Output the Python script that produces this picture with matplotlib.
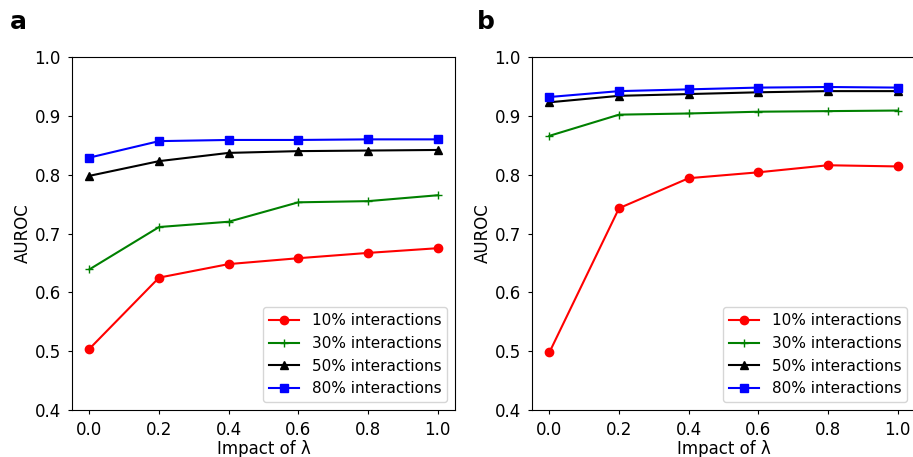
import numpy as np
import matplotlib.pyplot as plt

lam = [0.0, 0.2, 0.4, 0.6, 0.8, 1.0]
labels = ['10% interactions', '30% interactions', '50% interactions', '80% interactions']

# panel a
a_10 = [0.504, 0.625, 0.648, 0.658, 0.667, 0.675]
a_30 = [0.639, 0.711, 0.720, 0.753, 0.755, 0.765]
a_50 = [0.798, 0.823, 0.837, 0.840, 0.841, 0.842]
a_80 = [0.829, 0.857, 0.859, 0.859, 0.860, 0.860]

# panel b
b_10 = [0.498, 0.743, 0.794, 0.804, 0.816, 0.814]
b_30 = [0.866, 0.902, 0.904, 0.907, 0.908, 0.909]
b_50 = [0.923, 0.934, 0.937, 0.940, 0.942, 0.942]
b_80 = [0.932, 0.942, 0.945, 0.948, 0.949, 0.948]

styles = [('red', 'o'), ('green', '+'), ('black', '^'), ('blue', 's')]

plt.rcParams.update({'font.size': 12})
fig = plt.figure(figsize=(9.13, 4.57), dpi=100)
W, H = 913, 457
ax_a = fig.add_axes([72 / W, 1 - 410 / H, 383 / W, 353 / H])
ax_b = fig.add_axes([532 / W, 1 - 410 / H, 383 / W, 353 / H])


def draw(ax, series, letter, lx):
    for vals, (c, m), lab in zip(series, styles, labels):
        ax.plot(lam, vals, color=c, marker=m, markersize=6, linewidth=1.5, label=lab)
    ax.set_ylim(0.4, 1.0)
    ax.set_yticks(np.arange(0.4, 1.01, 0.1))
    ax.set_xticks(lam)
    ax.tick_params(length=3, pad=5)
    ax.set_xlabel('Impact of λ', labelpad=1)
    ax.set_ylabel('AUROC', labelpad=2)
    ax.legend(loc='lower right', fontsize=11)
    ax.text(lx, 1.079, letter, transform=ax.transAxes, fontsize=18, fontweight='bold')


draw(ax_a, [a_10, a_30, a_50, a_80], 'a', -0.162)
draw(ax_b, [b_10, b_30, b_50, b_80], 'b', -0.144)

fig.savefig('out.png', dpi=100)
